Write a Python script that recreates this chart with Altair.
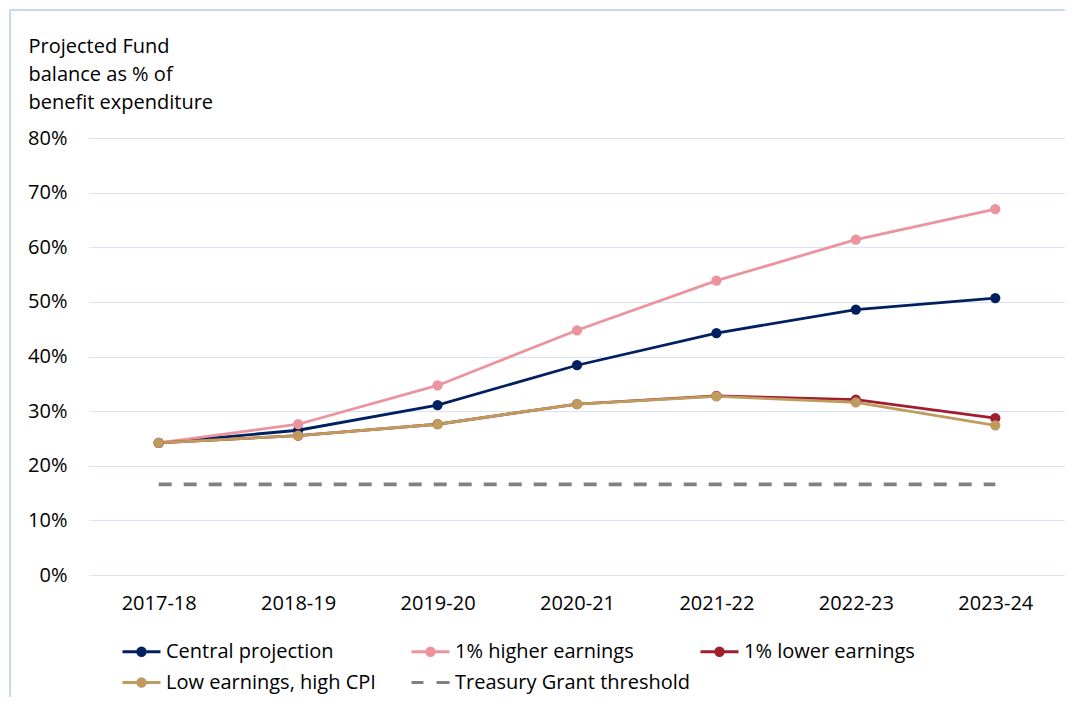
import altair as alt
import pandas as pd

years = ["2017-18", "2018-19", "2019-20", "2020-21", "2021-22", "2022-23", "2023-24"]
central = [0.242, 0.265, 0.311, 0.384, 0.443, 0.486, 0.507]
higher = [0.242, 0.276, 0.347, 0.448, 0.539, 0.614, 0.670]
lower = [0.242, 0.255, 0.276, 0.313, 0.328, 0.321, 0.287]
low_cpi = [0.242, 0.255, 0.276, 0.313, 0.327, 0.316, 0.274]
threshold = [0.166] * 7

series_names = ["Central projection", "1% higher earnings", "1% lower earnings",
                "Low earnings, high CPI", "Treasury Grant threshold"]
series_colors = ["#002060", "#EB949E", "#A01E2E", "#BF9B5E", "#808080"]

rows = []
for name, vals in zip(series_names[:4], [central, higher, lower, low_cpi]):
    for y, v in zip(years, vals):
        rows.append({"year": y, "value": v, "series": name})
df = pd.DataFrame(rows)
df_thr = pd.DataFrame({"year": years, "value": threshold, "series": series_names[4]})
df_all = pd.concat([df, df_thr], ignore_index=True)

FONT = "Open Sans"

# legend glyphs: line with a marker (concentric rings to look filled), and a dashed line
line_path = ("M-1,0L1,0"
             "M0.2,0A0.2,0.2,0,1,1,-0.2,0A0.2,0.2,0,1,1,0.2,0"
             "M0.12,0A0.12,0.12,0,1,1,-0.12,0A0.12,0.12,0,1,1,0.12,0"
             "M0.05,0A0.05,0.05,0,1,1,-0.05,0A0.05,0.05,0,1,1,0.05,0")
dash_path = "M-1,0L-0.37,0M0.32,0L1,0"

cscale = alt.Scale(domain=series_names, range=series_colors)

x = alt.X("year:N", sort=years, scale=alt.Scale(type="point", padding=0.5),
          axis=alt.Axis(title=None, labelAngle=0, ticks=False, tickSize=0, domain=False,
                        grid=False, labelFont=FONT, labelFontSize=20, labelColor="#000000",
                        labelPadding=18))
y = alt.Y("value:Q", scale=alt.Scale(domain=[0, 0.8], nice=False),
          axis=alt.Axis(title=["Projected Fund", "balance as % of", "benefit expenditure"],
                        titleAngle=0, titleAlign="left", titleBaseline="top",
                        titleX=-61, titleY=-102, titleFont=FONT, titleFontSize=20,
                        titleFontWeight="normal", titleColor="#000000", titleLineHeight=28,
                        values=[0, 0.1, 0.2, 0.3, 0.4, 0.5, 0.6, 0.7, 0.8], format=".0%",
                        ticks=False, tickSize=0, domain=False, gridColor="#D9E2F3",
                        gridWidth=1, labelFont=FONT, labelFontSize=20, labelColor="#000000",
                        labelPadding=22))

thr = alt.Chart(df_thr).mark_line(strokeWidth=3.8, strokeDash=[13, 12], strokeCap="butt").encode(
    x=x, y=y, color=alt.Color("series:N", scale=cscale, legend=None))
lines = alt.Chart(df).mark_line(strokeWidth=2.8).encode(
    x=x, y=y, color=alt.Color("series:N", scale=cscale, legend=None))
points = alt.Chart(df).mark_point(filled=True, size=105, opacity=1).encode(
    x=x, y=y, color=alt.Color("series:N", scale=cscale, legend=None))

legend_layer = alt.Chart(df_all).mark_point(filled=False, opacity=0, strokeWidth=2.8).encode(
    x=x, y=y,
    color=alt.Color("series:N", scale=cscale,
                    legend=alt.Legend(
                        title=None, orient="none", legendX=32, legendY=493, columns=3,
                        direction="horizontal",
                        gridAlign="all", columnPadding=3, rowPadding=0,
                        labelFont=FONT, labelFontSize=20, labelColor="#000000", labelOffset=4,
                        labelLimit=400, symbolSize=1444, symbolOpacity=1,
                        symbolStrokeWidth=2.8)),
    shape=alt.Shape("series:N",
                    scale=alt.Scale(domain=series_names,
                                    range=[line_path] * 4 + [dash_path])),
)

border_top = alt.Chart(df_thr).mark_rule(color="#C9D9F2", strokeWidth=1.5).encode(
    x=alt.value(-79), x2=alt.value(1000), y=alt.value(-128))
border_left = alt.Chart(df_thr).mark_rule(color="#C9D9F2", strokeWidth=1.5).encode(
    x=alt.value(-79), y=alt.value(-128), y2=alt.value(600))

chart = alt.layer(border_top, border_left, legend_layer, thr, lines, points).properties(
    width=976, height=437,
    autosize=alt.AutoSizeParams(type="none"),
    padding={"left": 81, "top": 130, "right": 0, "bottom": 122},
    background="#FFFFFF",
).configure_view(stroke=None)

chart.save("out.html", embed_options={"renderer": "svg", "actions": False})
